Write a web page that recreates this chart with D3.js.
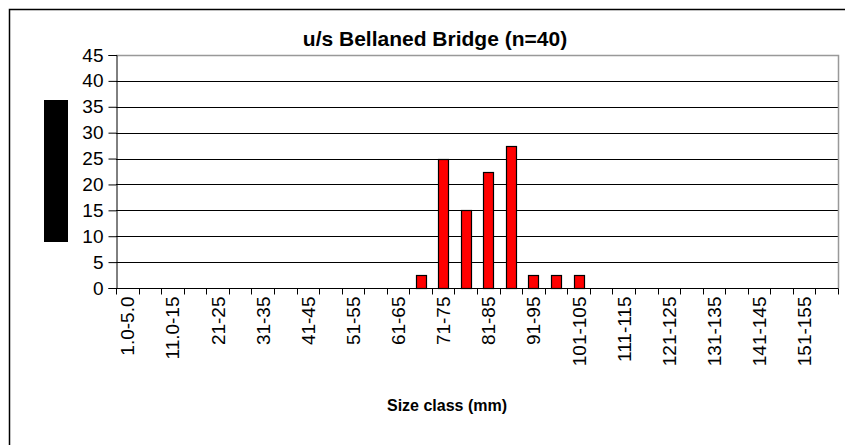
<!DOCTYPE html>
<html>
<head>
<meta charset="utf-8">
<script src="https://d3js.org/d3.v7.min.js"></script>
<style>
  body { margin: 0; background: #fff; }
  svg text { font-family: "Liberation Sans", Arial, sans-serif; }
</style>
</head>
<body>
<div id="chart"></div>
<script>
var width = 845, height = 445;

// size classes (mm), 5 mm bins
var classes = ["1.0-5.0", "6.0-10", "11.0-15", "16-20", "21-25", "26-30", "31-35", "36-40",
  "41-45", "46-50", "51-55", "56-60", "61-65", "66-70", "71-75", "76-80",
  "81-85", "86-90", "91-95", "96-100", "101-105", "106-110", "111-115", "116-120",
  "121-125", "126-130", "131-135", "136-140", "141-145", "146-150", "151-155", "156-160"];
// percent of fish in each class
var percent = [0, 0, 0, 0, 0, 0, 0, 0,
  0, 0, 0, 0, 0, 2.5, 25, 15,
  22.5, 27.5, 2.5, 2.5, 2.5, 0, 0, 0,
  0, 0, 0, 0, 0, 0, 0, 0];
var yTicks = [0, 5, 10, 15, 20, 25, 30, 35, 40, 45];

var margin = {left: 116, right: 7, top: 55, bottom: 157};

var svg = d3.select("#chart").append("svg")
  .attr("width", width)
  .attr("height", height);

// chart area border (runs off the right and bottom)
svg.append("path")
  .attr("d", "M9.5," + (height + 5) + "V9.5H" + (width + 5))
  .attr("fill", "none")
  .attr("stroke", "#000")
  .attr("stroke-width", 1.5);

var x = d3.scaleBand()
  .domain(classes)
  .range([margin.left, width - margin.right]);

var y = d3.scaleLinear()
  .domain([0, 45])
  .range([height - margin.bottom, margin.top]);

// grid
svg.append("g")
  .selectAll("line")
  .data(yTicks.filter(function(d){ return d > 0 && d < 45; }))
  .enter().append("line")
  .attr("x1", margin.left).attr("x2", width - margin.right)
  .attr("y1", function(d){ return Math.round(y(d)) + 0.5; })
  .attr("y2", function(d){ return Math.round(y(d)) + 0.5; })
  .attr("stroke", "#000");

// plot area border top/right (grey)
svg.append("path")
  .attr("d", "M" + margin.left + "," + (margin.top + 0.5) + "H" + (width - margin.right + 0.5) +
    "V" + y(0))
  .attr("fill", "none")
  .attr("stroke", "#999")
  .attr("stroke-width", 1.5);

// bars
var bw = 10;
svg.append("g")
  .selectAll("rect")
  .data(classes.map(function(c, i){ return {c: c, v: percent[i]}; }).filter(function(d){ return d.v > 0; }))
  .enter().append("rect")
  .attr("x", function(d){ return Math.round(x(d.c) + (x.bandwidth() - bw) / 2) + 0.5; })
  .attr("y", function(d){ return Math.round(y(d.v)) + 0.5; })
  .attr("width", bw)
  .attr("height", function(d){ return Math.round(y(0)) - Math.round(y(d.v)); })
  .attr("fill", "#ff0000")
  .attr("stroke", "#000")
  .attr("stroke-width", 1.2);

// y axis
var yAxis = svg.append("g")
  .attr("transform", "translate(" + (margin.left + 0.5) + ",0)")
  .call(d3.axisLeft(y).tickValues(yTicks).tickSize(8).tickPadding(5));
yAxis.select(".domain").attr("stroke", "#000");
yAxis.selectAll("text").attr("font-size", 19).attr("fill", "#000");

// x axis: ticks at class boundaries, every other label
var xAxis = svg.append("g")
  .attr("transform", "translate(0," + (Math.round(y(0)) + 0.5) + ")");
xAxis.append("line")
  .attr("x1", margin.left).attr("x2", width - margin.right + 0.5)
  .attr("stroke", "#000");
xAxis.selectAll(".tk")
  .data(classes.concat(["end"]))
  .enter().append("line")
  .attr("class", "tk")
  .attr("x1", function(d, i){ return Math.round(margin.left + i * x.step()) + 0.5; })
  .attr("x2", function(d, i){ return Math.round(margin.left + i * x.step()) + 0.5; })
  .attr("y1", 0).attr("y2", 6)
  .attr("stroke", "#000");
xAxis.selectAll(".lbl")
  .data(classes.filter(function(d, i){ return i % 2 === 0; }))
  .enter().append("text")
  .attr("class", "lbl")
  .attr("transform", function(d){ return "translate(" + (x(d) + x.bandwidth() / 2 + 7) + ",8) rotate(-90)"; })
  .attr("text-anchor", "end")
  .attr("font-size", 19)
  .text(function(d){ return d; });

// title
svg.append("text")
  .attr("x", 435).attr("y", 46)
  .attr("text-anchor", "middle")
  .attr("font-size", 21)
  .attr("font-weight", "bold")
  .text("u/s Bellaned Bridge (n=40)");

// x axis title
svg.append("text")
  .attr("x", 447).attr("y", 411)
  .attr("text-anchor", "middle")
  .attr("font-size", 16)
  .attr("font-weight", "bold")
  .text("Size class (mm)");

// redacted y axis title
svg.append("rect")
  .attr("x", 44).attr("y", 100)
  .attr("width", 24).attr("height", 142)
  .attr("fill", "#000");
</script>
</body>
</html>
